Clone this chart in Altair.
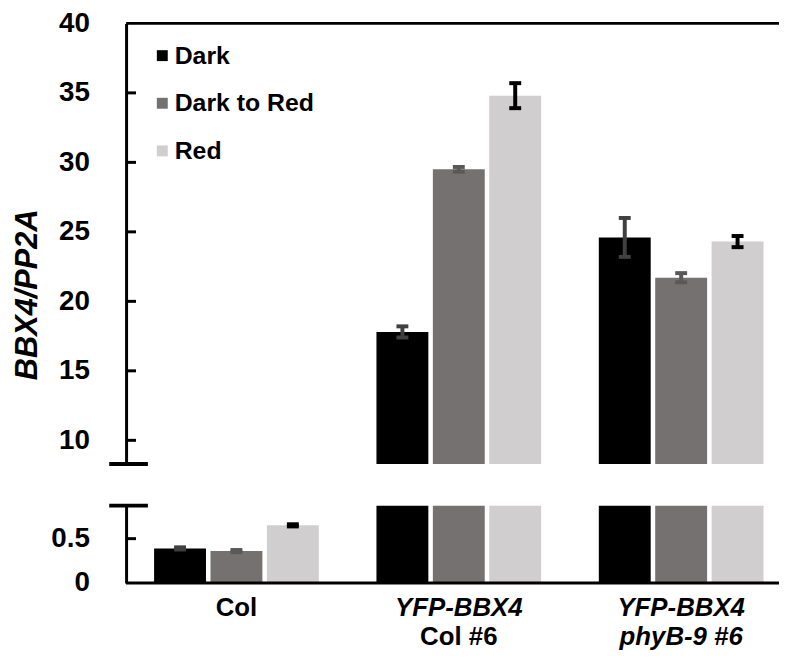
import altair as alt
import pandas as pd

# ---------------- data ----------------
groups = ["Col", "YFP-BBX4 Col #6", "YFP-BBX4 phyB-9 #6"]
series = ["Dark", "Dark to Red", "Red"]

dark_vals = [0.39, 17.8, 24.6]
dark_errs = [0.012, 0.4, 1.4]
dtr_vals = [0.36, 29.5, 21.7]
dtr_errs = [0.012, 0.17, 0.33]
red_vals = [0.65, 34.8, 24.3]
red_errs = [0.012, 0.9, 0.4]

bar_colors = ["#000000", "#767171", "#d0cece"]
err_colors = ["#404040", "#595959", "#000000"]

tick_values = [0.5, 10, 15, 20, 25, 30, 35]
label_values = [0, 0.5, 10, 15, 20, 25, 30, 35, 40]

# broken axis: lower segment 0..0.872, upper segment 8.3..40
break_low = 0.872
break_high = 8.3
y_max = 40

label_line1 = ["Col", "YFP-BBX4", "YFP-BBX4"]
label_line1_italic = [False, True, True]
label_line2 = ["", "Col #6", "phyB-9 #6"]
label_line2_italic = [False, False, True]

y_title = "BBX4/PP2A"

# ---------------- tables ----------------
rows = []
for vals, errs, s in [(dark_vals, dark_errs, "Dark"), (dtr_vals, dtr_errs, "Dark to Red"), (red_vals, red_errs, "Red")]:
    for g, v, e in zip(groups, vals, errs):
        rows.append({"group": g, "series": s, "value": v, "lo": v - e, "hi": v + e})
df = pd.DataFrame(rows)

lab_rows = []
for g, t, it in zip(groups, label_line1, label_line1_italic):
    lab_rows.append({"group": g, "text": t, "line": 1, "italic": it})
for g, t, it in zip(groups, label_line2, label_line2_italic):
    lab_rows.append({"group": g, "text": t, "line": 2, "italic": it})
labdf = pd.DataFrame(lab_rows)

FONT = "Liberation Sans"
W = 658
H = 564
H_LOW = 78     # pixel height of the lower segment
GAP = 42       # pixel gap between the segments

ysc = alt.Scale(
    domain=[0, break_low, break_high, y_max],
    range=[H, H - H_LOW, H - H_LOW - GAP, 0],
    zero=False, nice=False,
)
xscale = alt.Scale(domain=groups, paddingInner=0.2593, paddingOuter=0.0978, align=0.644)


def xenc():
    return alt.X("group:N", sort=groups, scale=xscale, axis=None)


def xoff():
    return alt.XOffset("series:N", sort=series,
                       scale=alt.Scale(domain=series, paddingInner=0.08, paddingOuter=0))


yaxis = alt.Axis(
    values=label_values, format="~g", zindex=0,
    labelFont=FONT, labelFontSize=28, labelFontWeight="bold", labelColor="black",
    labelPadding=37, ticks=False, tickSize=0, domainWidth=3, domainColor="black",
    grid=False, labelBaseline="middle", labelOverlap=False,
    title=y_title, titleFont=FONT, titleFontSize=31, titleFontWeight="bold",
    titleFontStyle="italic", titleColor="black", titleX=-99, titleY=273,
    titleAngle=270, titleAlign="center", titleBaseline="middle",
)

legend = alt.Legend(
    orient="none", legendX=24, legendY=20, title=None,
    symbolType="square", symbolSize=121, symbolStrokeWidth=0, symbolOpacity=1,
    labelFont=FONT, labelFontSize=25, labelFontWeight="bold", labelColor="black",
    labelOffset=0, rowPadding=22, padding=0,
)

base = alt.Chart(df)
bars = base.mark_bar().encode(
    x=xenc(), xOffset=xoff(),
    y=alt.Y("value:Q", scale=ysc, axis=yaxis),
    color=alt.Color("series:N", sort=series,
                    scale=alt.Scale(domain=series, range=bar_colors), legend=legend),
)
gap_mask = alt.Chart(pd.DataFrame({"a": [break_low], "b": [break_high]})).mark_rect(
    color="white", opacity=1
).encode(
    y=alt.Y("a:Q", scale=ysc), y2="b:Q", x=alt.value(-5), x2=alt.value(W)
)
stems = base.mark_rule(strokeWidth=4).encode(
    x=xenc(), xOffset=xoff(),
    y=alt.Y("lo:Q", scale=ysc), y2="hi:Q",
    stroke=alt.Stroke("series:N", scale=alt.Scale(domain=series, range=err_colors), legend=None),
)
caps_lo = base.mark_tick(thickness=4, size=12, orient="horizontal", opacity=1).encode(
    x=xenc(), xOffset=xoff(),
    y=alt.Y("lo:Q", scale=ysc),
    fill=alt.Fill("series:N", scale=alt.Scale(domain=series, range=err_colors), legend=None),
)
caps_hi = base.mark_tick(thickness=4, size=12, orient="horizontal", opacity=1).encode(
    x=xenc(), xOffset=xoff(),
    y=alt.Y("hi:Q", scale=ysc),
    fill=alt.Fill("series:N", scale=alt.Scale(domain=series, range=err_colors), legend=None),
)
inner_ticks = alt.Chart(pd.DataFrame({"v": tick_values})).mark_rule(strokeWidth=3, color="black").encode(
    y=alt.Y("v:Q", scale=ysc), x=alt.value(0), x2=alt.value(10)
)
break_marks = alt.Chart(pd.DataFrame({"b": [break_low, break_high]})).mark_rule(
    strokeWidth=4, color="black"
).encode(y=alt.Y("b:Q", scale=ysc), x=alt.value(-17), x2=alt.value(22))
frame_lines = alt.Chart(pd.DataFrame({"b": [0, y_max]})).mark_rule(strokeWidth=3, color="black").encode(
    y=alt.Y("b:Q", scale=ysc)
)

layers = [bars, gap_mask, stems, caps_lo, caps_hi, inner_ticks, break_marks, frame_lines]

for line, ypix in [(1, 597), (2, 626)]:
    for italic in [False, True]:
        sub = labdf[(labdf["line"] == line) & (labdf["italic"] == italic) & (labdf["text"] != "")]
        if len(sub) == 0:
            continue
        layers.append(
            alt.Chart(sub).mark_text(
                font=FONT, fontSize=26, fontWeight="bold",
                fontStyle="italic" if italic else "normal",
                baseline="alphabetic", align="center", color="black",
            ).encode(x=xenc(), y=alt.value(ypix), text="text:N")
        )

chart = alt.layer(*layers).properties(
    width=W, height=H,
    autosize=alt.AutoSizeParams(type="none"),
    padding={"left": 119, "top": 13, "right": 0, "bottom": 67},
).configure_view(strokeWidth=0, stroke="transparent")

chart.save("out.html", embed_options={"renderer": "svg", "actions": False})
